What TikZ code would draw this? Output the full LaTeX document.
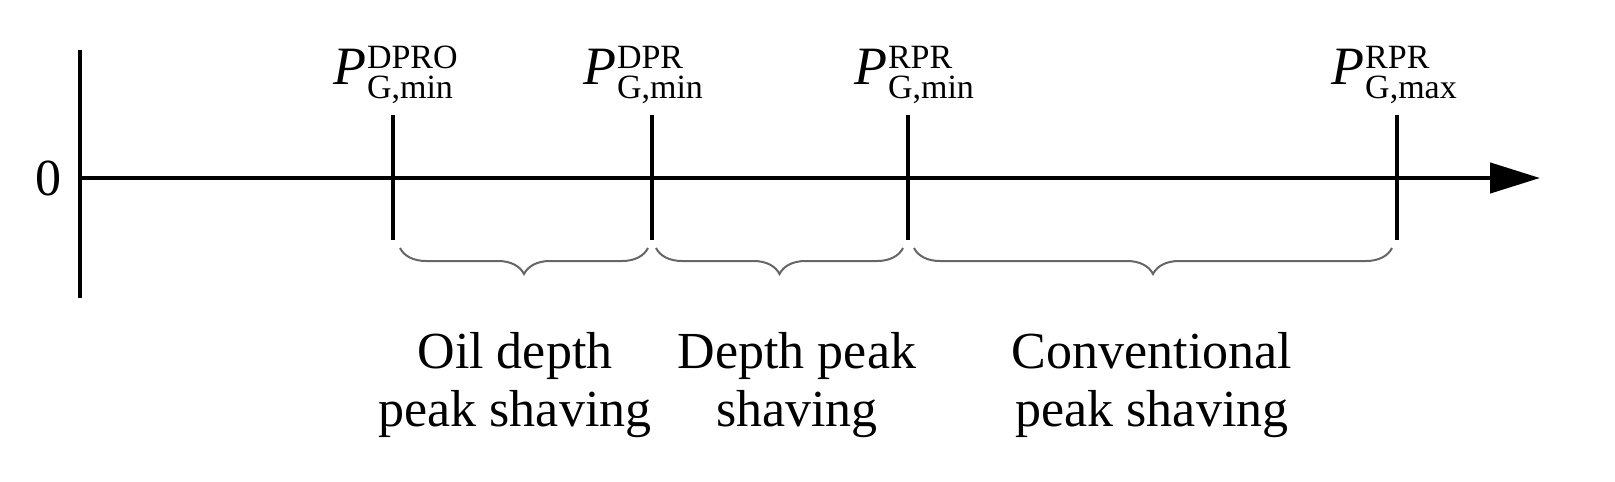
\documentclass[tikz,border=0pt]{standalone}
\usepackage{fontspec}
\setmainfont{Liberation Serif}
\usetikzlibrary{decorations.pathreplacing,arrows.meta}
\newcommand{\PG}[2]{\textit{P}\kern1pt\raisebox{16pt}{\fontsize{34}{34}\selectfont\rlap{#1}}\raisebox{-14pt}{\fontsize{34}{34}\selectfont #2}}
\begin{document}
\begin{tikzpicture}[x=1pt,y=-1pt,
  axis/.style={line width=4.5pt},
  tick/.style={line width=4.5pt},
  br/.style={draw=black!60,line width=2pt,decorate,decoration={brace,mirror,amplitude=26pt,aspect=0.5}},
  lab/.style={font=\fontsize{52}{58}\selectfont,align=center,inner sep=0pt},
  plab/.style={font=\fontsize{54}{58}\selectfont,inner sep=0pt,anchor=base}]
\useasboundingbox (0,0) rectangle (1615,482);
\coordinate (vt) at (80,50); \coordinate (vb) at (80,298);
\coordinate (o) at (80,178); \coordinate (e) at (1540,178);
\draw[axis] (vt) -- (vb);
\draw[axis,-{Triangle[length=50pt,width=30pt]}] (o) -- (e);
\node[lab,anchor=east] (zero) at (62,178) {0};
\foreach \n/\x in {a/393,b/652,c/908,d/1397}{
  \coordinate (\n t) at (\x,115); \coordinate (\n b) at (\x,240);
  \draw[tick] (\n t) -- (\n b);}
\node[plab] (la) at (393,84) {\PG{DPRO}{G,min}};
\node[plab] (lb) at (643,84) {\PG{DPR}{G,min}};
\node[plab] (lc) at (914,84) {\PG{RPR}{G,min}};
\node[plab] (ld) at (1394,84) {\PG{RPR}{G,max}};
\draw[br] (400,248) -- (648,248);
\draw[br] (656,248) -- (903,248);
\draw[br] (914,248) -- (1392,248);
\node[lab] (t1) at (515,385) {Oil depth\\peak shaving};
\node[lab] (t2) at (797,385) {Depth peak\\shaving};
\node[lab] (t3) at (1152,385) {Conventional\\peak shaving};
\end{tikzpicture}
\end{document}
